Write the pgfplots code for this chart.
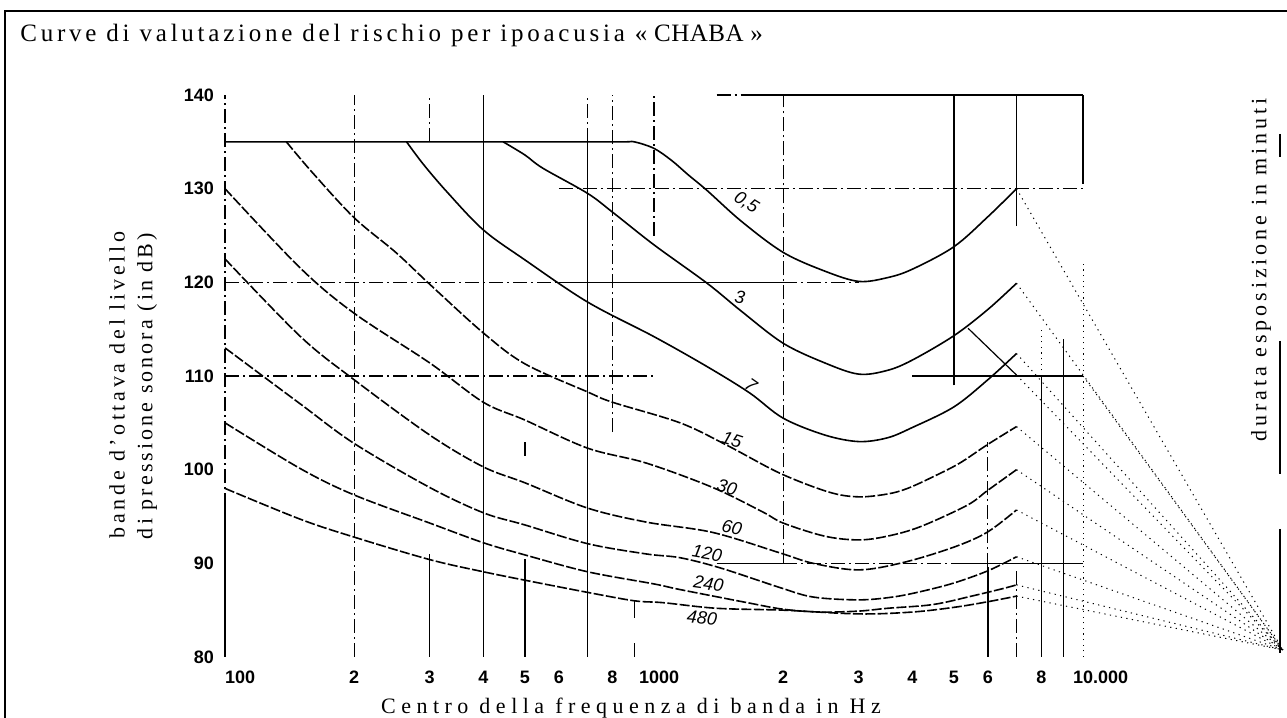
\documentclass[border=0pt]{standalone}
\usepackage{fontspec}
\setmainfont{Liberation Serif}
\setsansfont{Liberation Sans}
\usepackage{pgfplots}
\pgfplotsset{compat=1.18}
\tikzset{
  gs/.style={line width=0.7pt},
  gd/.style={line width=0.6pt, dash pattern=on 7pt off 2pt on 1pt off 2pt},
  cs/.style={line width=0.8pt, smooth, tension=0.55},
  cd/.style={line width=0.8pt, smooth, tension=0.55, dash pattern=on 5pt off 1.2pt},
  lab/.style={font=\sffamily\itshape\fontsize{9}{10}\selectfont, inner sep=0pt},
  conv/.style={line width=0.5pt, dash pattern=on 0.6pt off 2.2pt},
}
\begin{document}
\begin{tikzpicture}[x=1pt,y=1pt]
\useasboundingbox (-112.5,-30.5) rectangle (531,328.5);
\draw[line width=0.8pt] (-110,-31) -- (-110,323) -- (532,323);
\node[anchor=west, inner sep=0pt] at (-102.5,311)
  {\fontsize{12.5}{14}\selectfont{\addfontfeature{LetterSpace=15}Curve di valutazione del rischio per ipoacusia }{\addfontfeature{LetterSpace=2}« CHABA »}};
\node[inner sep=0pt] at (203,-25.5)
  {\fontsize{11}{13}\selectfont\addfontfeature{LetterSpace=25}Centro della frequenza di banda in Hz};
\node[rotate=90, inner sep=0pt] at (-54,136)
  {\fontsize{11}{13}\selectfont\addfontfeature{LetterSpace=17}bande d'ottava del livello};
\node[rotate=90, inner sep=0pt] at (-39,135.5)
  {\fontsize{11}{13}\selectfont\addfontfeature{LetterSpace=14}di pressione sonora (in dB)};
\node[rotate=90, inner sep=0pt] at (518,193.5)
  {\fontsize{11}{13}\selectfont\addfontfeature{LetterSpace=18}durata esposizione in minuti};
\draw[line width=0.7pt] (527.5,261.5) -- (527.5,250);
\draw[line width=0.7pt] (527.5,158) -- (527.5,91.5);
\draw[line width=0.7pt] (527.5,64) -- (527.5,2);
\begin{axis}[
  at={(0,0)}, anchor=south west,
  scale only axis, width=429pt, height=281pt,
  xmode=log, xmin=100, xmax=10000, ymin=80, ymax=140,
  clip=false,
  axis line style={draw=none},
  major tick length=0pt, minor tick length=0pt,
  xtick={100,200,300,400,500,600,800,1000,2000,3000,4000,5000,6000,8000,10000},
  xticklabels={\makebox[0pt][l]{100},2,3,4,5,6,8,\makebox[0pt][l]{\hspace{-7.5pt}1000},2,3,4,5,6,8,\makebox[0pt][l]{\hspace{-5pt}10.000}},
  ytick={80,90,...,140},
  yticklabels={80,90,100,110,120,130,140},
  tick label style={font=\sffamily\bfseries\fontsize{9}{10}\selectfont},
  xticklabel style={yshift=-3.5pt},
  yticklabel style={xshift=-2pt},
]
% vertical grid lines
\draw[gs] (axis cs:100,80) -- (axis cs:100,96);
\draw[gd] (axis cs:100,96) -- (axis cs:100,140);
\draw[gd] (axis cs:200,80) -- (axis cs:200,140);
\draw[gd] (axis cs:300,135) -- (axis cs:300,140);
\draw[gs] (axis cs:300,80) -- (axis cs:300,91);
\draw[gs] (axis cs:400,80) -- (axis cs:400,140);
\draw[gs] (axis cs:500,80) -- (axis cs:500,90.5);
\draw[gs] (axis cs:500,101.5) -- (axis cs:500,103);
\draw[gd] (axis cs:700,135) -- (axis cs:700,140);
\draw[gs] (axis cs:700,80) -- (axis cs:700,135);
\draw[gd] (axis cs:800,104) -- (axis cs:800,140);
\draw[gs] (axis cs:900,80) -- (axis cs:900,81.5);
\draw[gs] (axis cs:900,84.2) -- (axis cs:900,86);
\draw[gd] (axis cs:1000,125) -- (axis cs:1000,140);
\draw[gd] (axis cs:2000,90) -- (axis cs:2000,140);
\draw[gs] (axis cs:5000,109) -- (axis cs:5000,140);
\draw[gd] (axis cs:6000,89.6) -- (axis cs:6000,103);
\draw[gs] (axis cs:6000,80) -- (axis cs:6000,89.6);
\draw[gs] (axis cs:7000,126) -- (axis cs:7000,140);
\draw[gd] (axis cs:7000,80) -- (axis cs:7000,89.6);
\draw[gs] (axis cs:8000,80) -- (axis cs:8000,110);
\draw[conv] (axis cs:8000,110) -- (axis cs:8000,115);
\draw[gs] (axis cs:9000,80) -- (axis cs:9000,114);
\draw[gs] (axis cs:10000,130.5) -- (axis cs:10000,140);
\draw[conv] (axis cs:10000,80) -- (axis cs:10000,122);
% horizontal grid lines
\draw[gd] (axis cs:1400,140) -- (axis cs:1700,140);
\draw[gs] (axis cs:1700,140) -- (axis cs:10000,140);
\draw[gd] (axis cs:600,130) -- (axis cs:10000,130);
\draw[gd] (axis cs:100,120) -- (axis cs:600,120);
\draw[gs] (axis cs:600,120) -- (axis cs:2000,120);
\draw[gd] (axis cs:2000,120) -- (axis cs:3000,120);
\draw[gd] (axis cs:100,110) -- (axis cs:1000,110);
\draw[gs] (axis cs:4000,110) -- (axis cs:10000,110);
\draw[gs] (axis cs:1400,90) -- (axis cs:2000,90);
\draw[gd] (axis cs:2000,90) -- (axis cs:5000,90);
\draw[gs] (axis cs:5000,90) -- (axis cs:10000,90);
% curves
\addplot[cs] coordinates {(100,135) (300,135) (600,135) (850,135) (900,135) (1000,134.3) (1100,133) (1200,131.5) (1330,129.8) (1600,126.5) (2000,123.2) (2500,121.2) (3000,120.1) (3500,120.5) (4000,121.4) (5000,123.8) (6000,127) (7000,130)};
\addplot[cs] coordinates {(445,135) (500,133.6) (550,132.2) (700,129.5) (800,127.5) (1000,124) (1330,119.9) (1600,116.9) (2000,113.5) (2500,111.4) (3000,110.2) (3500,110.6) (4000,111.7) (5000,114.3) (6000,117.1) (7000,119.9)};
\addplot[cs] coordinates {(265,135) (290,132.6) (330,129.6) (400,125.6) (500,122.4) (700,117.9) (1000,114.2) (1330,111) (1670,108.2) (2000,105.5) (2500,103.7) (3000,103) (3500,103.4) (4000,104.5) (5000,106.7) (6000,109.6) (7000,112.4)};
\addplot[cd] coordinates {(139,135) (160,131.7) (200,126.9) (250,123.2) (300,119.8) (400,114.6) (500,111.3) (700,108.3) (800,107.2) (1150,105) (1480,102.6) (1970,99.6) (2560,97.6) (3000,97.1) (3500,97.4) (3900,98) (4500,99.3) (5160,100.7) (6000,102.7) (7000,104.6)};
\addplot[cd] coordinates {(100,130) (150,121.5) (200,116.7) (300,111.4) (400,107.2) (500,105.3) (700,102.3) (960,100.7) (1370,98.1) (1790,95.5) (2000,94.3) (2500,92.9) (3000,92.5) (3500,92.9) (4170,93.9) (5370,96.2) (6000,97.8) (7000,100)};
\addplot[cd] coordinates {(100,122.5) (150,114.2) (200,109.6) (300,103.7) (400,100.3) (500,98.6) (700,95.9) (960,94.4) (1370,93.3) (1970,91.1) (2350,90) (3000,89.3) (3820,90.1) (4980,91.7) (5970,93.3) (7000,95.7)};
\addplot[cd] coordinates {(100,113) (150,107) (200,102.8) (300,98.1) (400,95.4) (500,94.1) (700,92.1) (960,91) (1150,90.6) (1430,89.5) (1970,87.4) (2350,86.4) (3000,86.1) (3600,86.4) (4200,87) (5000,87.9) (6000,89.2) (7000,90.7)};
\addplot[cd] coordinates {(100,105) (150,100.1) (200,97.3) (300,94.3) (400,92.2) (500,90.9) (700,89.1) (1000,87.8) (1150,87.2) (1650,85.8) (2000,85.1) (2440,84.8) (3000,84.9) (3500,85.2) (4470,85.6) (5500,86.5) (6500,87.3) (7000,87.7)};
\addplot[cd] coordinates {(100,98) (150,94.7) (200,92.8) (300,90.4) (400,89.1) (500,88.2) (700,86.9) (900,86) (1050,85.8) (1400,85.2) (2000,85) (3000,84.6) (4000,84.8) (5000,85.3) (6000,85.9) (7000,86.5)};
% curve labels
\node[lab, rotate=-32] at (axis cs:1640,128.5) {0,5};
\node[lab, rotate=-10] at (axis cs:1585,118.4) {3};
\node[lab, rotate=-35] at (axis cs:1683,109) {7};
\node[lab, rotate=-18] at (axis cs:1520,103.2) {15};
\node[lab, rotate=-15] at (axis cs:1480,98.1) {30};
\node[lab, rotate=-12] at (axis cs:1520,93.8) {60};
\node[lab, rotate=-10] at (axis cs:1330,91.1) {120};
\node[lab, rotate=-8] at (axis cs:1340,87.8) {240};
\node[lab, rotate=-6] at (axis cs:1294,84.2) {480};
% guide lines towards the exposure-time scale
\draw[line width=0.6pt] (axis cs:5395,115.1) -- (axis cs:7000,110.1);
\draw[conv] (axis cs:7000,110.1) -- (axis cs:29240,80.75);
\draw[conv] (axis cs:7000,130) -- (axis cs:29240,80.75);
\draw[conv] (axis cs:7000,119.9) -- (axis cs:29240,80.75);
\draw[conv] (axis cs:7000,112.4) -- (axis cs:29240,80.75);
\draw[conv] (axis cs:7000,104.6) -- (axis cs:29240,80.75);
\draw[conv] (axis cs:7000,100) -- (axis cs:29240,80.75);
\draw[conv] (axis cs:7000,95.7) -- (axis cs:29240,80.75);
\draw[conv] (axis cs:7000,90.7) -- (axis cs:29240,80.75);
\draw[conv] (axis cs:7000,87.7) -- (axis cs:29240,80.75);
\draw[conv] (axis cs:7000,86.5) -- (axis cs:29240,80.75);
\draw[conv] (axis cs:10000,110) -- (axis cs:29240,80.75);
\end{axis}
\end{tikzpicture}
\end{document}
